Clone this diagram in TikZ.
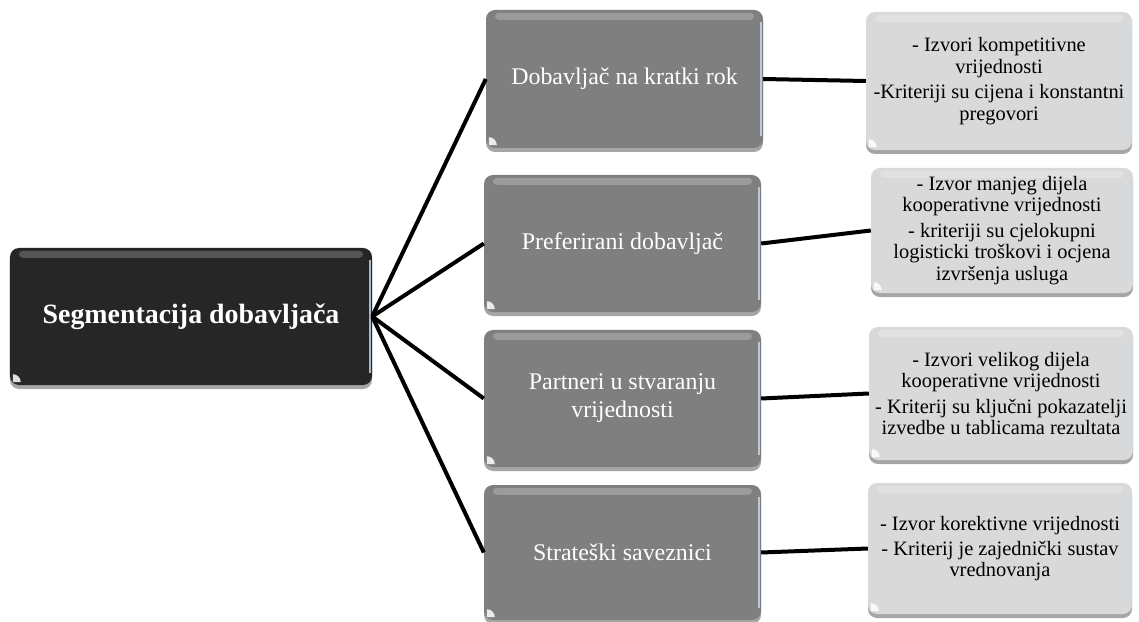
\documentclass[tikz,border=0pt]{standalone}
\usepackage{fontspec}
\setmainfont{Liberation Serif}
\usetikzlibrary{shadows,calc}
\definecolor{rootfill}{HTML}{262626}
\definecolor{midfill}{HTML}{7F7F7F}
\definecolor{leaffill}{HTML}{D9D9D9}
\definecolor{edgelight}{HTML}{C9DCEB}
\tikzset{
  box/.style={rounded corners=9bp, inner sep=0pt, draw=none,
    drop shadow={shadow xshift=0bp, shadow yshift=-4bp, opacity=0.35, fill=black}},
  rootbox/.style={box, fill=rootfill},
  midbox/.style={box, fill=midfill},
  leafbox/.style={box, fill=leaffill},
  roottext/.style={text=white, font=\fontsize{28}{32}\selectfont\bfseries, align=center},
  midtext/.style={text=white, font=\fontsize{24}{28}\selectfont, align=center},
  leaftext/.style={text=black, font=\fontsize{20.5}{21.5}\selectfont, align=center},
  link/.style={line width=4bp, black},
  glossband/.style={fill=white, opacity=0.22, rounded corners=4bp},
  sideline/.style={draw=edgelight, line width=1.5bp, opacity=0.8},
}
\newcommand{\glossbox}[1]{%
  \path[glossband] ($(#1.north west)+(9bp,-3bp)$) rectangle ($(#1.north east)+(-9bp,-10bp)$);
  \draw[sideline] ($(#1.north east)+(-2bp,-12bp)$) -- ($(#1.south east)+(-2bp,12bp)$);
  \fill[white, opacity=0.85] ($(#1.south west)+(3bp,3bp)$) -- ++(8bp,0) arc[start angle=0, end angle=90, radius=8bp] -- cycle;
}
\begin{document}
\begin{tikzpicture}[x=1bp, y=-1bp]
\useasboundingbox[fill=white] (0,0) rectangle (1139,622);

% root
\node[rootbox, minimum width=362bp, minimum height=137bp] (root) at (191,316.5) {};
\glossbox{root}
\node[roottext] (roott) at (root.center) {Segmentacija dobavljača};

% middle boxes
\node[midbox, minimum width=277bp, minimum height=138bp] (m1) at (624.5,79) {};
\node[midbox, minimum width=277bp, minimum height=137bp] (m2) at (622.5,243.5) {};
\node[midbox, minimum width=277bp, minimum height=137bp] (m3) at (622.5,398.5) {};
\node[midbox, minimum width=277bp, minimum height=135bp] (m4) at (622.5,552.5) {};
\glossbox{m1}\glossbox{m2}\glossbox{m3}\glossbox{m4}
\node[midtext] (m1t) at (m1.center) {Dobavljač na kratki rok};
\node[midtext] (m2t) at (m2.center) {Preferirani dobavljač};
\node[midtext] (m3t) at (m3.center) {Partneri u stvaranju\\vrijednosti};
\node[midtext] (m4t) at (m4.center) {Strateški saveznici};

% leaf boxes
\node[leafbox, minimum width=266bp, minimum height=138bp] (l1) at (999,81) {};
\node[leafbox, minimum width=262bp, minimum height=125bp] (l2) at (1002,230.5) {};
\node[leafbox, minimum width=264bp, minimum height=133bp] (l3) at (1001,393.5) {};
\node[leafbox, minimum width=264bp, minimum height=131bp] (l4) at (1000,548.5) {};
\glossbox{l1}\glossbox{l2}\glossbox{l3}\glossbox{l4}
\node[leaftext] (l1t) at (l1.center) {- Izvori kompetitivne\\vrijednosti\\[4pt]-Kriteriji su cijena i konstantni\\pregovori};
\node[leaftext] (l2t) at (l2.center) {- Izvor manjeg dijela\\kooperativne vrijednosti\\[4pt]- kriteriji su cjelokupni\\logisticki troškovi i ocjena\\izvršenja usluga};
\node[leaftext] (l3t) at (l3.center) {- Izvori velikog dijela\\kooperativne vrijednosti\\[4pt]- Kriterij su ključni pokazatelji\\izvedbe u tablicama rezultata};
\node[leaftext] (l4t) at (l4.center) {- Izvor korektivne vrijednosti\\[4pt]- Kriterij je zajednički sustav\\vrednovanja};

% connectors
\foreach \i in {1,2,3,4} {
  \draw[link] (root.east) -- (m\i.west);
  \draw[link] (m\i.east) -- (l\i.west);
}
\end{tikzpicture}
\end{document}
